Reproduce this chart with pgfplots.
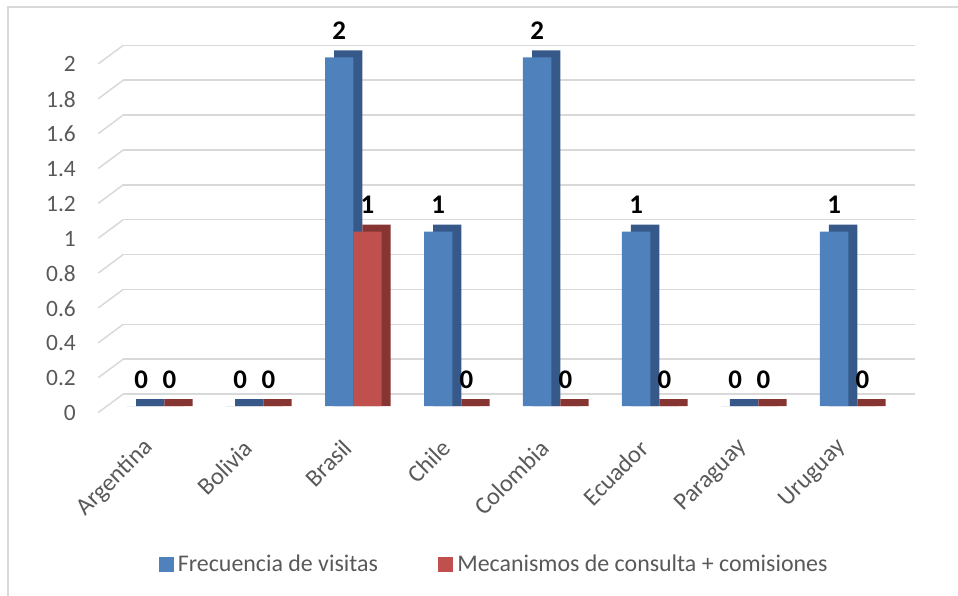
\documentclass[border=0pt]{standalone}
\usepackage{pgfplots}
\pgfplotsset{compat=1.18}
\usepackage{pgfplotstable}
\usepackage{fontspec}
\setmainfont{Carlito}
\definecolor{bblue}{HTML}{4F81BD}
\definecolor{bred}{HTML}{C0504D}
\definecolor{dblue}{HTML}{36598A}
\definecolor{dred}{HTML}{863533}
\definecolor{gridgray}{HTML}{D9D9D9}
\definecolor{textgray}{HTML}{595959}
\pgfplotstableread{
x visitas mecanismos
0 0 0
1 0 0
2 2 1
3 1 0
4 2 0
5 1 0
6 0 0
7 1 0
}\datatable
\begin{document}
\begin{tikzpicture}
\useasboundingbox (0bp,0bp) rectangle (958bp,596bp);
\draw[gridgray, line width=1.5bp] (8bp,0bp) -- (8bp,589bp) -- (958bp,589bp);
\begin{axis}[
  at={(105.8bp,190bp)}, anchor=south west,
  scale only axis, width=792bp, height=348.7bp,
  xmin=-0.5, xmax=7.5, ymin=0, ymax=2,
  clip=false,
  axis line style={draw=none},
  tick style={draw=none}, major tick length=0pt,
  /pgf/number format/assume math mode=true,
  ytick={0,0.2,0.4,0.6,0.8,1,1.2,1.4,1.6,1.8,2},
  yticklabels={0,0.2,0.4,0.6,0.8,1,1.2,1.4,1.6,1.8,2},
  xtick={0,1,2,3,4,5,6,7},
  xticklabels={Argentina,Bolivia,Brasil,Chile,Colombia,Ecuador,Paraguay,Uruguay},
  ymajorgrids,
  grid style={draw=gridgray, line width=1.5bp, xshift=17.5bp, yshift=12bp},
  yticklabel style={xshift=-29.8bp, yshift=-7bp, anchor=east, inner sep=0pt,
    text=textgray, font=\fontsize{23.5}{27}\selectfont},
  xticklabel style={xshift=-6bp, yshift=-38bp, rotate=45, anchor=east, inner sep=0pt,
    text=textgray, font=\fontsize{24.5}{28}\selectfont},
  legend columns=2,
  legend cell align=left,
  legend style={at={(axis description cs:0.4889,-0.4531)}, anchor=center,
    draw=none, fill=none, inner sep=0pt, column sep=5bp,
    /tikz/every even column/.append style={column sep=60bp},
    nodes={inner sep=0pt, text=textgray, font=\fontsize{24}{28}\selectfont}},
]
\pgfplotsinvokeforeach{0,0.2,0.4,0.6,0.8,1,1.2,1.4,1.6,1.8,2}{
  \draw[gridgray, line width=1.5bp] ([xshift=-7.5bp,yshift=-6.5bp]axis cs:-0.5,#1) -- ([xshift=17.5bp,yshift=12bp]axis cs:-0.5,#1);
}
% depth (side and top faces)
\addplot[ybar, bar width=28.3bp, bar shift=-5.15bp, fill=dblue, draw=none, forget plot,
  y filter/.expression={y+0.04}] table[x=x, y=visitas] {\datatable};
\addplot[ybar, bar width=28.3bp, bar shift=23.15bp, fill=dred, draw=none, forget plot,
  y filter/.expression={y+0.04}] table[x=x, y=mecanismos] {\datatable};
% front faces
\addplot[ybar, bar width=28.3bp, bar shift=-14.15bp, fill=bblue, draw=none, forget plot,
  nodes near coords,
  every node near coord/.append style={anchor=base, inner sep=0pt, xshift=-14.15bp, yshift=18bp, text=black,
    font=\fontsize{27}{30}\selectfont\bfseries}] table[x=x, y=visitas] {\datatable};
\addplot[ybar, bar width=28.3bp, bar shift=14.15bp, fill=bred, draw=none, forget plot,
  nodes near coords,
  every node near coord/.append style={anchor=base, inner sep=0pt, xshift=14.15bp, yshift=18bp, text=black,
    font=\fontsize{27}{30}\selectfont\bfseries}] table[x=x, y=mecanismos] {\datatable};
\addlegendimage{legend image code/.code={\fill[bblue] (0bp,-7bp) rectangle (14bp,7bp);}}
\addlegendentry{Frecuencia de visitas}
\addlegendimage{legend image code/.code={\fill[bred] (0bp,-7bp) rectangle (14bp,7bp);}}
\addlegendentry{Mecanismos de consulta + comisiones}
\end{axis}
\end{tikzpicture}
\end{document}
